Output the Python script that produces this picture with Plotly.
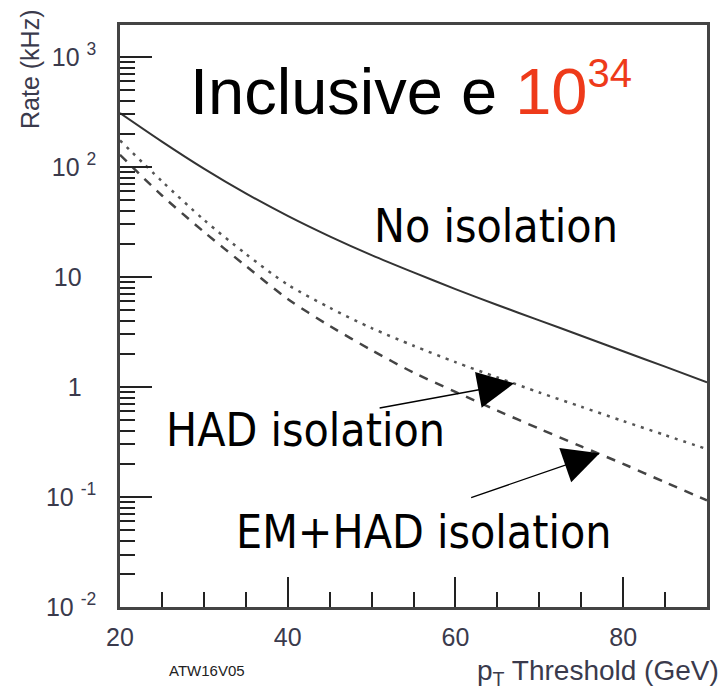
import math
import plotly.graph_objects as go

# ---- data ----
pt_threshold = [20, 25, 30, 35, 40, 45, 50, 55, 60, 65, 70, 75, 80, 85, 90]
rate_no_isolation = [309, 170, 96.6, 57.5, 35.9, 23.4, 15.8, 11.0, 7.76, 5.56, 4.03, 2.92, 2.11, 1.53, 1.10]
rate_had_isolation = [174, 74.1, 33.1, 16.2, 8.51, 5.25, 3.43, 2.37, 1.68, 1.22, 0.891, 0.661, 0.490, 0.365, 0.272]
rate_emhad_isolation = [128.8, 55.0, 25.7, 12.6, 6.31, 3.59, 2.16, 1.35, 0.902, 0.610, 0.417, 0.288, 0.200, 0.136, 0.0933]

y_tick_vals = [0.01, 0.1, 1, 10, 100, 1000]
y_tick_text = ["10 <sup>-2</sup>", "10 <sup>-1</sup>", "1<sup>\u00a0\u00a0\u00a0</sup>",
               "10<sup>\u00a0\u00a0\u00a0</sup>", "10 <sup>2</sup>", "10 <sup>3</sup>"]
y_minor_vals = [m * 10 ** e for e in range(-2, 4) for m in range(2, 10)]
x_tick_vals = [20, 40, 60, 80]

# arrow targets (data coords on curves)
had_arrow_x, had_arrow_y = 67, 1.08
em_arrow_x, em_arrow_y = 77.2, 0.25

W, H = 723, 696
L_M, R_M, T_M, B_M = 120, 16, 25, 89
PW, PH = W - L_M - R_M, H - T_M - B_M


def px(x):
    return (x - L_M) / PW


def py(y):
    return (H - B_M - y) / PH


fig = go.Figure()
fig.add_trace(go.Scatter(x=pt_threshold, y=rate_no_isolation, mode="lines",
                         line=dict(color="#333333", width=2, shape="spline", smoothing=0.8),
                         showlegend=False))
fig.add_trace(go.Scatter(x=pt_threshold, y=rate_had_isolation, mode="lines",
                         line=dict(color="#555555", width=2.5, dash="3px,6px", shape="spline",
                                   smoothing=0.8), showlegend=False))
fig.add_trace(go.Scatter(x=pt_threshold, y=rate_emhad_isolation, mode="lines",
                         line=dict(color="#444444", width=2.5, dash="9px,8px", shape="spline",
                                   smoothing=0.8), showlegend=False))

tick_font = dict(family="Liberation Sans, Arial, sans-serif", size=25, color="#3a3a4c")
label_font = "DejaVu Sans Condensed, DejaVu Sans, sans-serif"

fig.update_xaxes(range=[20, 90], tickvals=x_tick_vals, ticks="inside", ticklen=30, tickwidth=2,
                 tickcolor="#222", showline=True, linecolor="#444", linewidth=2.5, mirror=True,
                 showgrid=False, zeroline=False, tickfont=tick_font, ticklabelstandoff=6,
                 minor=dict(dtick=5, tick0=20, ticks="inside", ticklen=15, tickwidth=2, tickcolor="#222"))
fig.update_yaxes(type="log", range=[-2, 3.29], tickvals=y_tick_vals, ticktext=y_tick_text,
                 ticks="inside", ticklen=32, tickwidth=2, tickcolor="#222",
                 showline=True, linecolor="#444", linewidth=2.5, mirror=True,
                 showgrid=False, zeroline=False, tickfont=tick_font, ticklabelstandoff=16,
                 minor=dict(tickmode="array", tickvals=y_minor_vals, ticks="inside", ticklen=15,
                            tickwidth=2, tickcolor="#222"))

annotations = [
    dict(text="Inclusive e <span style='color:#EE3A1A'>10<sup><span style='font-size:40px'>34</span></sup></span>",
         x=px(188), y=py(89), xanchor="left", yanchor="middle",
         font=dict(family="Liberation Sans, Arial, sans-serif", size=65, color="#000")),
    dict(text="No isolation", x=px(372), y=py(226), xanchor="left", yanchor="middle",
         font=dict(family=label_font, size=46, color="#000")),
    dict(text="HAD isolation", x=px(164), y=py(430), xanchor="left", yanchor="middle",
         font=dict(family=label_font, size=46, color="#000")),
    dict(text="EM+HAD isolation", x=px(234), y=py(532), xanchor="left", yanchor="middle",
         font=dict(family=label_font, size=46, color="#000")),
    dict(text="Rate (kHz)", x=px(30), y=py(70), textangle=-90, xanchor="center", yanchor="middle",
         font=dict(family="Liberation Sans, Arial, sans-serif", size=25, color="#3a3a4c")),
    dict(text="p<sub>T</sub> Threshold (GeV)", x=px(721), y=py(672), xanchor="right", yanchor="middle",
         font=dict(family="Liberation Sans, Arial, sans-serif", size=28, color="#3a3a4c")),
    dict(text="ATW16V05", x=px(207), y=py(670), xanchor="center", yanchor="middle",
         font=dict(family="Liberation Sans Narrow, Liberation Sans, Arial, sans-serif", size=15, color="#222")),
]
for a in annotations:
    a.update(xref="paper", yref="paper", showarrow=False)

arrows = [
    dict(x=had_arrow_x, y=math.log10(had_arrow_y), ax=-136, ay=25),
    dict(x=em_arrow_x, y=math.log10(em_arrow_y), ax=-130, ay=45),
]
for a in arrows:
    a.update(xref="x", yref="y", text="", showarrow=True, arrowhead=2, arrowsize=5.6,
             arrowwidth=1.3, arrowcolor="#000", standoff=0)

fig.update_layout(width=W, height=H, margin=dict(l=L_M, r=R_M, t=T_M, b=B_M),
                  paper_bgcolor="white", plot_bgcolor="white",
                  annotations=annotations + arrows)

fig.write_html("out.html", config={"displayModeBar": False},
               post_script="document.body.style.margin='0';document.body.style.padding='0';")
